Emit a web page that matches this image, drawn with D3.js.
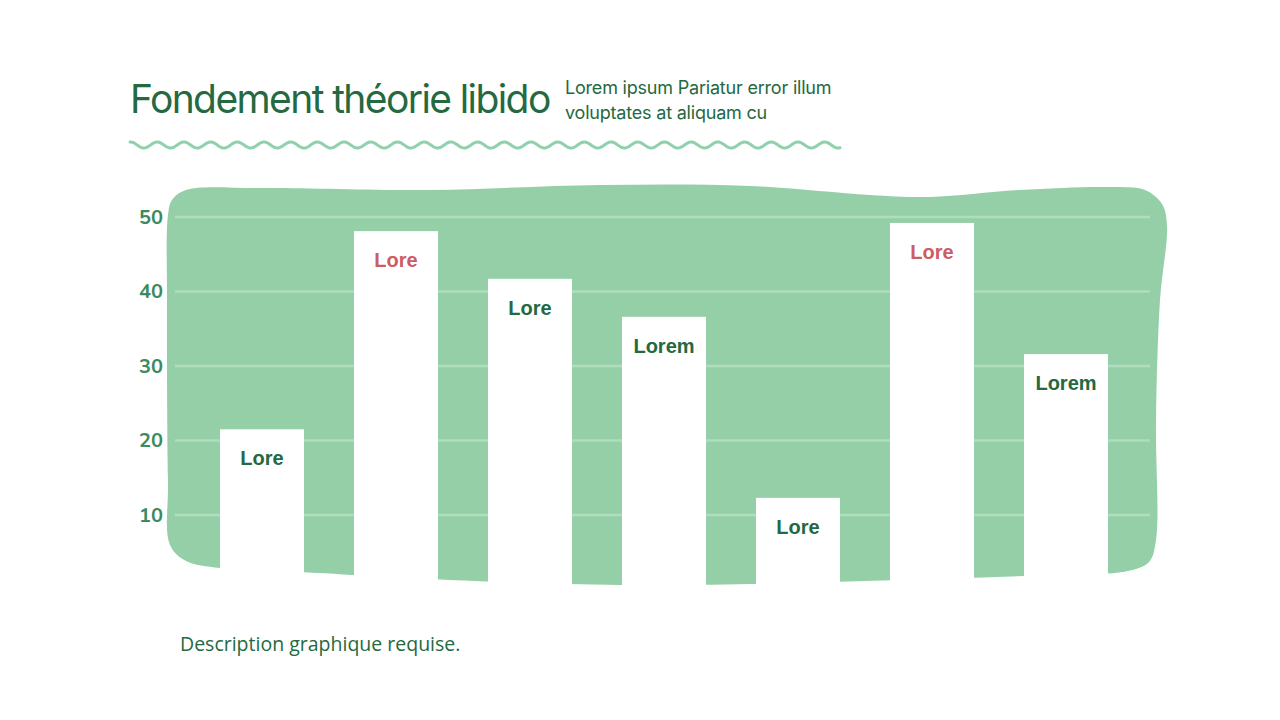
<!DOCTYPE html>
<html>
<head>
<meta charset="utf-8">
<script src="https://cdnjs.cloudflare.com/ajax/libs/d3/7.8.5/d3.min.js"></script>
<style>
  html, body { margin: 0; padding: 0; background: #fff; }
  svg { display: block; }
</style>
</head>
<body>
<div id="chart"></div>
<script>
// chart values
var categories = ['Lore', 'Lore', 'Lore', 'Lorem', 'Lore', 'Lore', 'Lorem'];
var values = [21.5, 48.1, 41.7, 36.6, 12.3, 49.2, 31.6];
var highlighted = [false, true, false, false, false, true, false];
var yTicks = [10, 20, 30, 40, 50];

var title = 'Fondement théorie libido';
var subtitle = ['Lorem ipsum Pariatur error illum', 'voluptates at aliquam cu'];
var caption = 'Description graphique requise.';

var width = 1280, height = 720;
var darkGreen = '#24693f', blobGreen = '#95cfa8', gridGreen = '#afdebf',
    tickGreen = '#3c8a60', red = '#cc5d62';

var svg = d3.select('#chart')
  .append('svg')
  .attr('width', width)
  .attr('height', height);

// title + subtitle
svg.append('text')
  .attr('x', 130).attr('y', 113)
  .attr('font-family', 'Inter')
  .attr('font-size', 39)
  .attr('letter-spacing', -1.6)
  .attr('fill', darkGreen)
  .text(title);

svg.append('g').selectAll('text')
  .data(subtitle)
  .join('text')
  .attr('x', 565)
  .attr('y', function(d, i) { return 94 + i * 25; })
  .attr('font-family', 'Inter')
  .attr('font-size', 18)
  .attr('letter-spacing', -0.2)
  .attr('fill', darkGreen)
  .text(function(d) { return d; });

// wavy underline
var wavePts = d3.range(130, 840.5, 1).map(function(x) {
  return [x, 145 - 3 * Math.cos(2 * Math.PI * (x - 130.5) / 26.7)];
});
svg.append('path')
  .attr('d', d3.line()(wavePts))
  .attr('fill', 'none')
  .attr('stroke', '#8fd0ad')
  .attr('stroke-width', 3)
  .attr('stroke-linecap', 'round');

// hand drawn background blob
var blob = [
  [172, 200], [186, 190], [260, 188], [430, 190], [600, 185], [750, 186],
  [870, 195], [930, 197], [1020, 190], [1110, 187], [1145, 190], [1162, 204],
  [1167, 225], [1160, 300], [1156, 420], [1156, 540], [1149, 562], [1128, 571],
  [1050, 575], [900, 580], [750, 584], [620, 585], [450, 580], [300, 572],
  [220, 568], [186, 561], [170, 545], [168, 480], [167, 300], [168, 215]
];
svg.append('path')
  .attr('d', d3.line().curve(d3.curveCatmullRomClosed.alpha(0.5))(blob))
  .attr('fill', blobGreen);

// scales
var x = d3.scaleBand()
  .domain(d3.range(categories.length))
  .range([170, 1158])
  .paddingInner(0.373)
  .paddingOuter(0.373);

var y = d3.scaleLinear()
  .domain([0, 50])
  .range([589.5, 217]);

// gridlines
svg.append('g').selectAll('line')
  .data(yTicks)
  .join('line')
  .attr('x1', 175).attr('x2', 1150)
  .attr('y1', function(d) { return y(d); })
  .attr('y2', function(d) { return y(d); })
  .attr('stroke', gridGreen)
  .attr('stroke-width', 2.5);

// y axis, no domain line
var yAxis = svg.append('g')
  .attr('transform', 'translate(163,0)')
  .call(d3.axisLeft(y).tickValues(yTicks).tickSize(0).tickPadding(0));
yAxis.select('.domain').remove();
yAxis.selectAll('text')
  .attr('font-family', 'Nunito, Lato, sans-serif')
  .attr('font-weight', 700)
  .attr('font-size', 20)
  .attr('fill', tickGreen);

// bars
svg.append('g').selectAll('rect')
  .data(values)
  .join('rect')
  .attr('x', function(d, i) { return x(i); })
  .attr('y', function(d) { return y(d); })
  .attr('width', x.bandwidth())
  .attr('height', function(d) { return y(0) - y(d); })
  .attr('fill', '#ffffff');

// bar labels
svg.append('g').selectAll('text')
  .data(values)
  .join('text')
  .attr('x', function(d, i) { return x(i) + x.bandwidth() / 2; })
  .attr('y', function(d) { return y(d) + 36; })
  .attr('text-anchor', 'middle')
  .attr('font-family', 'Liberation Sans, Arial, sans-serif')
  .attr('font-weight', 700)
  .attr('font-size', 20)
  .attr('fill', function(d, i) { return highlighted[i] ? red : darkGreen; })
  .text(function(d, i) { return categories[i]; });

// caption
svg.append('text')
  .attr('x', 180).attr('y', 651)
  .attr('font-family', 'Open Sans')
  .attr('font-size', 19.5)
  .attr('fill', darkGreen)
  .text(caption);
</script>
</body>
</html>
